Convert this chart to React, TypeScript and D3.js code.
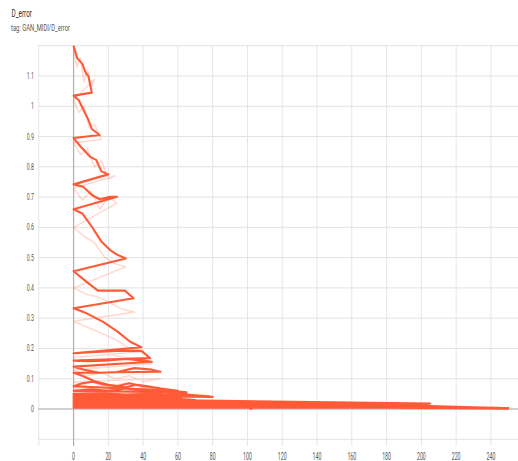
import React from "react";
import * as d3 from "d3";

const W = 518;
const H = 461;

const title = "D_error";
const tagText = "tag: GAN_MIDI/D_error";

const xTickValues = [-20, 0, 20, 40, 60, 80, 100, 120, 140, 160, 180, 200, 220, 240];
const xTickLabels = ["", "0", "20", "40", "60", "80", "100", "120", "140", "160", "180", "200", "220", "240"];
const yTickValues = [-0.1, 0, 0.1, 0.2, 0.3, 0.4, 0.5, 0.6, 0.7, 0.8, 0.9, 1, 1.1, 1.2];
const yTickLabels = ["", "0", "0.1", "0.2", "0.3", "0.4", "0.5", "0.6", "0.7", "0.8", "0.9", "1", "1.1", ""];

// smoothed run segments (step restarts at 0 each run)
const smoothSteps: number[][] = [
  [0, 2, 5, 7, 8.5, 10.5],
  [0, 3, 5.5, 8.5, 10.5, 15],
  [0, 4, 9.5, 13, 16, 20],
  [0, 5.5, 10.5, 15, 21, 25],
  [0, 5, 10.5, 16, 21, 25, 30],
  [0, 7.5, 14, 29.5, 34.5],
  [0, 7.5, 17, 25.5, 32.5, 39],
  [0, 10, 25, 39, 44],
  [0, 8, 18, 30, 40, 45],
  [0, 6, 15, 25, 35, 45, 50],
  [0, 5, 12, 20, 30, 36, 42, 50, 60],
  [0, 5, 11, 18, 25, 32, 40, 48, 56, 65],
  [0, 10, 20, 30, 40, 50, 60, 70, 78],
  [0, 15, 30, 45, 60, 70, 80],
  [0, 12, 25, 40, 55, 62],
  [0, 15, 30, 45, 60, 70],
  [0, 20, 40, 60, 80, 100, 130, 160, 190, 205],
  [0, 15, 30, 45, 58],
  [0, 25, 50, 75, 100, 102, 104, 130, 170, 204],
  [0, 20, 40, 55, 66],
  [0, 30, 60, 90, 120, 150, 180, 205, 230, 250],
  [0, 20, 40, 60],
  [0, 40, 80, 120, 160, 200, 204],
  [0, 25, 50, 70],
  [0, 50, 100, 150, 200, 245],
  [0, 60, 120, 180, 240, 250],
];
const smoothValues: number[][] = [
  [1.2, 1.16, 1.14, 1.11, 1.1, 1.045],
  [1.035, 1.02, 0.99, 0.955, 0.925, 0.905],
  [0.895, 0.867, 0.833, 0.823, 0.785, 0.775],
  [0.742, 0.734, 0.707, 0.693, 0.701, 0.701],
  [0.66, 0.646, 0.602, 0.553, 0.525, 0.51, 0.497],
  [0.455, 0.42, 0.391, 0.391, 0.366],
  [0.333, 0.316, 0.288, 0.255, 0.222, 0.204],
  [0.184, 0.188, 0.192, 0.192, 0.168],
  [0.16, 0.158, 0.16, 0.165, 0.16, 0.156],
  [0.14, 0.13, 0.12, 0.122, 0.135, 0.13, 0.123],
  [0.12, 0.11, 0.092, 0.08, 0.072, 0.08, 0.076, 0.068, 0.06],
  [0.075, 0.085, 0.09, 0.08, 0.075, 0.085, 0.075, 0.07, 0.06, 0.055],
  [0.06, 0.065, 0.06, 0.068, 0.062, 0.058, 0.05, 0.045, 0.042],
  [0.05, 0.052, 0.048, 0.05, 0.045, 0.042, 0.04],
  [0.046, 0.048, 0.045, 0.044, 0.04, 0.036],
  [0.042, 0.04, 0.042, 0.038, 0.034, 0.03],
  [0.038, 0.036, 0.034, 0.03, 0.02, 0.018, 0.018, 0.019, 0.018, 0.018],
  [0.034, 0.035, 0.032, 0.03, 0.026],
  [0.03, 0.028, 0.026, 0.022, 0.016, 0.0, 0.015, 0.016, 0.016, 0.016],
  [0.027, 0.025, 0.026, 0.022, 0.02],
  [0.022, 0.02, 0.018, 0.015, 0.014, 0.013, 0.012, 0.01, 0.006, 0.003],
  [0.019, 0.018, 0.017, 0.016],
  [0.014, 0.012, 0.012, 0.011, 0.011, 0.012, 0.011],
  [0.01, 0.009, 0.009, 0.008],
  [0.007, 0.007, 0.008, 0.008, 0.007, 0.004],
  [0.004, 0.004, 0.005, 0.004, 0.002, 0.001],
];

// raw (unsmoothed) runs, drawn faintly
const rawSteps: number[][] = [
  [0, 2, 4, 6, 8, 10, 12],
  [0, 3, 6, 9, 12, 16],
  [0, 4, 8, 12, 16, 20, 24],
  [0, 5, 10, 15, 20, 25],
  [0, 6, 12, 18, 24, 30],
  [0, 7, 14, 21, 28, 35],
  [0, 8, 16, 24, 32, 40],
  [0, 10, 20, 30, 40, 45],
  [0, 8, 16, 24, 32, 40, 50],
  [0, 10, 20, 30, 40, 50, 60],
  [0, 10, 20, 30, 40, 50, 60],
  [0, 20, 40, 60, 80, 100, 150, 200],
];
const rawValues: number[][] = [
  [1.19, 1.13, 1.16, 1.08, 1.12, 1.06, 1.09],
  [1.02, 0.98, 1.0, 0.93, 0.94, 0.89],
  [0.88, 0.84, 0.86, 0.8, 0.82, 0.76, 0.77],
  [0.73, 0.69, 0.72, 0.66, 0.7, 0.68],
  [0.6, 0.57, 0.55, 0.5, 0.48, 0.47],
  [0.4, 0.38, 0.37, 0.35, 0.33, 0.32],
  [0.29, 0.27, 0.25, 0.23, 0.2, 0.19],
  [0.17, 0.175, 0.18, 0.17, 0.165, 0.15],
  [0.13, 0.11, 0.12, 0.1, 0.11, 0.09, 0.1],
  [0.09, 0.07, 0.08, 0.06, 0.07, 0.05, 0.05],
  [0.07, 0.09, 0.075, 0.085, 0.07, 0.065, 0.055],
  [0.04, 0.03, 0.035, 0.025, 0.02, 0.015, 0.014, 0.012],
];

const LINE = "#ff5a36";

function flatten(steps: number[][], values: number[][]): [number, number][] {
  const pts: [number, number][] = [];
  steps.forEach((run, i) => run.forEach((s, j) => pts.push([s, values[i][j]])));
  return pts;
}

export default function App() {
  const x = d3.scaleLinear().domain([-20, 260]).range([38.8, 525.7]);
  const y = d3.scaleLinear().domain([-0.1, 1.2]).range([439.3, 45.7]);
  const line = d3
    .line<[number, number]>()
    .x((d) => x(d[0]))
    .y((d) => y(d[1]));

  const smoothPts = flatten(smoothSteps, smoothValues);
  const rawPts = flatten(rawSteps, rawValues);

  return (
    <svg
      width={W}
      height={H}
      style={{ position: "absolute", left: 0, top: 0, background: "#fff" }}
      fontFamily="Roboto, sans-serif"
    >
      <rect width={W} height={H} fill="#fff" />
      <text x={11.5} y={17} fontSize={10} fill="#333" textLength={20.5} lengthAdjust="spacingAndGlyphs">
        {title}
      </text>
      <text x={11} y={31} fontSize={8.5} fill="#555" textLength={59} lengthAdjust="spacingAndGlyphs">
        {tagText}
      </text>

      {/* grid */}
      {yTickValues.map((v) => (
        <line key={"gy" + v} x1={38} x2={W} y1={y(v)} y2={y(v)} stroke="#e2e2e2" strokeWidth={1} />
      ))}
      {xTickValues.map((v) => (
        <line key={"gx" + v} x1={x(v)} x2={x(v)} y1={45.7} y2={446} stroke="#e6e6e6" strokeWidth={1} />
      ))}
      {/* zero axes */}
      <line x1={38} x2={W} y1={y(0)} y2={y(0)} stroke="#b0b0b0" strokeWidth={1.2} />
      <line x1={x(0)} x2={x(0)} y1={45.7} y2={446} stroke="#b0b0b0" strokeWidth={1.2} />

      {/* tick labels */}
      {yTickValues.map((v, i) =>
        yTickLabels[i] ? (
          <text
            key={"ly" + v}
            transform={`translate(34,${y(v) + 3}) scale(0.55,1)`}
            textAnchor="end"
            fontSize={9.5}
            fill="#555"
          >
            {yTickLabels[i]}
          </text>
        ) : null
      )}
      {xTickValues.map((v, i) =>
        xTickLabels[i] ? (
          <text
            key={"lx" + v}
            transform={`translate(${x(v)},459.5) scale(0.5,1)`}
            textAnchor="middle"
            fontSize={10.5}
            fill="#555"
          >
            {xTickLabels[i]}
          </text>
        ) : null
      )}

      {/* data */}
      <path d={line(rawPts) || ""} fill="none" stroke={LINE} strokeOpacity={0.22} strokeWidth={1.6} strokeLinejoin="round" />
      <path d={line(smoothPts) || ""} fill="none" stroke={LINE} strokeWidth={2.1} strokeLinejoin="round" />
    </svg>
  );
}
